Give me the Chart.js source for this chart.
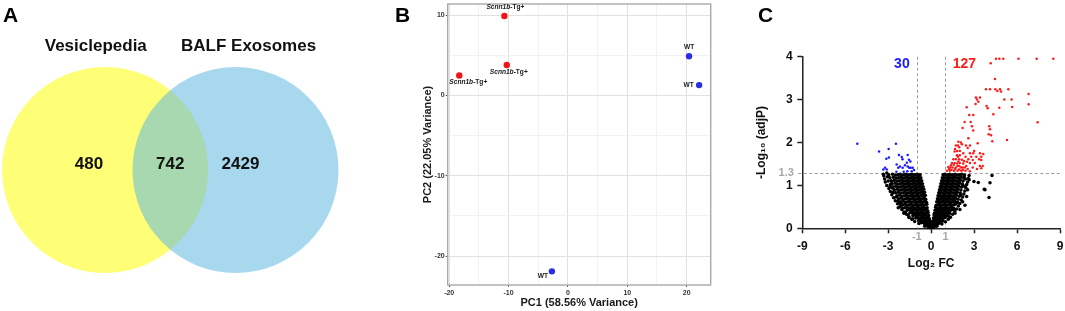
<!DOCTYPE html>
<html>
<head>
<meta charset="utf-8">
<script src="https://cdn.jsdelivr.net/npm/chart.js@4.4.1/dist/chart.umd.min.js"></script>
<style>
html,body{margin:0;padding:0;background:#fff;width:1065px;height:311px;overflow:hidden;font-family:"Liberation Sans",Arial,Helvetica,sans-serif}
canvas{position:absolute;top:0}
.panel{position:absolute;font-weight:bold;font-size:21px;line-height:21px;color:#000;z-index:5}
</style>
</head>
<body>
<canvas id="venn" width="360" height="311" style="left:0"></canvas>
<canvas id="pca" width="330" height="311" style="left:400px"></canvas>
<canvas id="volcano" width="310" height="311" style="left:755px"></canvas>
<div class="panel" style="left:3px;top:4px">A</div>
<div class="panel" style="left:395px;top:4px">B</div>
<div class="panel" style="left:758px;top:4px">C</div>
<script>
// ---------------- DATA ----------------
// Panel A: Venn diagram
const vennSetNames = ['Vesiclepedia', 'BALF Exosomes'];
const vennCounts = [480, 742, 2429]; // only Vesiclepedia, shared, only BALF

// Panel B: PCA
const pcaGroups = ['Scnn1b-Tg+', 'WT'];
const pcaTgX = [-18.3, -10.7, -10.3];
const pcaTgY = [2.5, 9.9, 3.8];
const pcaWtX = [20.4, 22.1, -2.7];
const pcaWtY = [4.9, 1.3, -21.9];
const pcaXTicks = [-20, -15, -10, -5, 0, 5, 10, 15, 20];
const pcaYTicks = [-20, -15, -10, -5, 0, 5, 10];
const pcaXTitle = 'PC1 (58.56% Variance)';
const pcaYTitle = 'PC2 (22.05% Variance)';

// Panel C: volcano plot
const volcanoCounts = [30, 127]; // down, up
const volcanoXTicks = [-9, -6, -3, 0, 3, 6, 9];
const volcanoYTicks = [0, 1, 2, 3, 4];
const fcCutoffs = [-1, 1];
const pCutoff = 1.3;
const volcanoXTitle = 'Log\u2082 FC';
const volcanoYTitle = '-Log\u2081\u2080 (adjP)';

const volcanoUp = [
[4.16,3.85],[4.53,3.95],[4.76,3.95],[5.04,3.95],[6.1,3.95],[7.37,3.95],[8.53,3.95],
[4.46,3.48],
[3.83,3.24],[4.11,3.24],[4.48,3.24],[4.62,3.2],[4.81,3.24],[4.88,3.19],[5.39,3.24],
[6.81,3.13],
[3.13,3.05],[3.41,3.05],[3.2,3.0],[3.3,2.95],[3.1,2.9],
[5.11,3.0],[5.62,3.0],[5.66,2.83],
[3.87,2.85],[3.95,2.8],[4.76,2.81],[6.81,2.89],
[2.48,2.82],[4.34,2.66],[2.66,2.64],[2.94,2.64],
[2.34,2.48],[2.76,2.48],[2.85,2.38],[2.94,2.28],[2.2,2.34],
[4.06,2.38],[4.11,2.31],[4.18,2.17],[4.02,2.19],
[7.44,2.47],[4.27,2.03],[5.3,2.06],[2.08,2.0],
[1.73,1.93],[1.87,1.93],[1.96,1.89],[2.43,1.93],[2.71,1.93],
[1.82,1.8],[2.01,1.8],[1.64,1.79],
[2.24,1.75],[2.71,1.75],[2.94,1.75],[3.41,1.75],[3.64,1.73],
[1.8,1.7],[1.87,1.67],[2.0,1.7],[2.4,1.67],[3.15,1.67],[3.5,1.67],
[1.55,1.61],[1.73,1.61],[1.96,1.61],[2.15,1.6],[2.6,1.61],[2.9,1.59],[3.35,1.61],[3.5,1.59],
[1.45,1.52],[1.64,1.52],[1.82,1.51],[2.0,1.52],[2.24,1.51],[2.71,1.52],[3.05,1.52],
[3.4,1.45],[3.5,1.4],[3.6,1.45],
[1.2,1.43],[1.35,1.42],[1.5,1.42],[1.73,1.42],[1.85,1.45],[1.96,1.45],[2.08,1.42],[2.2,1.42],[2.35,1.42],[2.45,1.45],[2.9,1.42],
[1.1,1.34],[1.3,1.34],[1.6,1.34],[1.85,1.34],[2.1,1.34],[2.4,1.34],
[1.25,1.38],[1.42,1.36],[1.68,1.38],[1.95,1.37],[2.22,1.36],[2.55,1.38],[2.7,1.33],[3.2,1.38],
[1.38,1.47],[1.58,1.48],[1.9,1.56],[2.3,1.57],[2.5,1.55],[2.8,1.67],[3.0,1.8],[2.55,1.87],
[1.67,1.85],[2.15,1.96],[3.25,1.98],[2.6,2.1],[1.9,2.02]
];

const volcanoDown = [
[-5.16,1.97],[-3.64,1.79],[-2.97,1.85],[-2.46,1.97],[-3.13,1.62],[-2.95,1.65],[-2.25,1.71],
[-2.0,1.61],[-2.05,1.66],[-1.64,1.71],[-1.55,1.6],[-3.22,1.41],[-3.1,1.37],[-3.34,1.37],
[-2.41,1.49],[-2.3,1.41],[-2.18,1.44],[-1.99,1.41],[-1.83,1.47],[-1.64,1.44],[-1.53,1.41],
[-1.43,1.41],[-1.29,1.41],[-2.43,1.32],[-1.92,1.32],[-1.66,1.33],[-1.36,1.33],[-1.7,1.53],
[-1.45,1.56],[-1.2,1.36]
];

const volcanoNS = [
[-0.22,0.03],[-0.13,0.02],[-0.06,0.04],[0,0.01],[0.07,0.03],[0.15,0.02],[0.23,0.04],
[-0.43,0.08],[-0.33,0.09],[-0.24,0.07],[-0.14,0.08],[-0.05,0.09],[0.06,0.07],[0.15,0.09],[0.25,0.08],[0.35,0.07],[0.44,0.09],
[-0.68,0.13],[-0.57,0.14],[-0.46,0.12],[-0.36,0.13],[-0.26,0.14],[-0.16,0.12],[-0.08,0.13],[0.09,0.14],[0.19,0.12],[0.29,0.13],[0.4,0.14],[0.52,0.12],[0.63,0.13],
[-0.88,0.18],[-0.76,0.19],[-0.64,0.17],[-0.53,0.18],[-0.42,0.19],[-0.31,0.17],[-0.2,0.18],[-0.1,0.19],[0.12,0.17],[0.23,0.18],[0.34,0.19],[0.46,0.17],[0.58,0.18],[0.7,0.19],[0.81,0.17],
[-1.08,0.24],[-0.95,0.25],[-0.83,0.23],[-0.71,0.24],[-0.59,0.25],[-0.48,0.23],[-0.37,0.24],[-0.25,0.25],[-0.14,0.23],[0.16,0.24],[0.27,0.25],[0.39,0.23],[0.51,0.24],[0.63,0.25],[0.76,0.23],[0.88,0.24],[0.99,0.25],
[-1.28,0.3],[-1.15,0.31],[-1.02,0.29],[-0.9,0.3],[-0.78,0.31],[-0.66,0.29],[-0.54,0.3],[-0.42,0.31],[-0.3,0.29],[-0.17,0.3],[0.2,0.31],[0.31,0.29],[0.43,0.3],[0.55,0.31],[0.67,0.29],[0.79,0.3],[0.91,0.31],[1.03,0.29],[1.14,0.3],
[-1.48,0.36],[-1.34,0.37],[-1.21,0.35],[-1.08,0.36],[-0.96,0.37],[-0.84,0.35],[-0.72,0.36],[-0.6,0.37],[-0.48,0.35],[-0.35,0.36],[-0.21,0.37],[0.23,0.35],[0.35,0.36],[0.47,0.37],[0.59,0.35],[0.71,0.36],[0.83,0.37],[0.95,0.35],[1.07,0.36],[1.19,0.37],[1.29,0.35],
[-1.68,0.42],[-1.53,0.43],[-1.39,0.41],[-1.26,0.42],[-1.13,0.43],[-1.0,0.41],[-0.88,0.42],[-0.76,0.43],[-0.64,0.41],[-0.52,0.42],[-0.39,0.43],[-0.24,0.41],[0.27,0.42],[0.39,0.43],[0.51,0.41],[0.63,0.42],[0.75,0.43],[0.87,0.41],[0.99,0.42],[1.11,0.43],[1.23,0.41],[1.35,0.42],[1.44,0.43],
[-1.84,0.48],[-1.68,0.49],[-1.54,0.47],[-1.41,0.48],[-1.28,0.49],[-1.15,0.47],[-1.03,0.48],[-0.91,0.49],[-0.79,0.47],[-0.67,0.48],[-0.55,0.49],[-0.42,0.47],[-0.28,0.48],[0.31,0.49],[0.43,0.47],[0.55,0.48],[0.67,0.49],[0.79,0.47],[0.91,0.48],[1.03,0.49],[1.15,0.47],[1.28,0.48],[1.42,0.49],[1.57,0.47],
[-1.98,0.55],[-1.82,0.56],[-1.67,0.54],[-1.53,0.55],[-1.4,0.56],[-1.27,0.54],[-1.14,0.55],[-1.02,0.56],[-0.9,0.54],[-0.78,0.55],[-0.66,0.56],[-0.54,0.54],[-0.42,0.55],[-0.3,0.56],[0.35,0.54],[0.47,0.55],[0.59,0.56],[0.71,0.54],[0.83,0.55],[0.95,0.56],[1.07,0.54],[1.19,0.55],[1.32,0.56],[1.46,0.54],[1.59,0.55],[1.69,0.56],
[-2.13,0.62],[-1.96,0.63],[-1.8,0.61],[-1.65,0.62],[-1.51,0.63],[-1.38,0.61],[-1.25,0.62],[-1.12,0.63],[-1.0,0.61],[-0.88,0.62],[-0.76,0.63],[-0.64,0.61],[-0.52,0.62],[-0.41,0.63],[-0.33,0.61],[0.39,0.62],[0.51,0.63],[0.63,0.61],[0.75,0.62],[0.87,0.63],[0.99,0.61],[1.11,0.62],[1.24,0.63],[1.37,0.61],[1.51,0.62],[1.65,0.63],[1.79,0.61],
[-2.28,0.69],[-2.1,0.7],[-1.93,0.68],[-1.77,0.69],[-1.63,0.7],[-1.49,0.68],[-1.36,0.69],[-1.23,0.7],[-1.1,0.68],[-0.98,0.69],[-0.86,0.7],[-0.74,0.68],[-0.62,0.69],[-0.5,0.7],[-0.38,0.68],[0.44,0.69],[0.56,0.7],[0.68,0.68],[0.8,0.69],[0.92,0.7],[1.04,0.68],[1.16,0.69],[1.29,0.7],[1.42,0.68],[1.56,0.69],[1.7,0.7],[1.88,0.68],
[-2.38,0.76],[-2.2,0.77],[-2.03,0.75],[-1.87,0.76],[-1.72,0.77],[-1.58,0.75],[-1.45,0.76],[-1.32,0.77],[-1.19,0.75],[-1.07,0.76],[-0.95,0.77],[-0.83,0.75],[-0.71,0.76],[-0.59,0.77],[-0.47,0.75],[-0.41,0.77],[0.48,0.76],[0.6,0.77],[0.72,0.75],[0.84,0.76],[0.96,0.77],[1.08,0.75],[1.21,0.76],[1.34,0.77],[1.48,0.75],[1.62,0.76],[1.77,0.77],[1.96,0.75],
[-2.48,0.83],[-2.29,0.84],[-2.12,0.82],[-1.96,0.83],[-1.81,0.84],[-1.67,0.82],[-1.53,0.83],[-1.4,0.84],[-1.27,0.82],[-1.14,0.83],[-1.02,0.84],[-0.9,0.82],[-0.78,0.83],[-0.66,0.84],[-0.54,0.82],[-0.46,0.84],[0.53,0.83],[0.65,0.84],[0.77,0.82],[0.89,0.83],[1.01,0.84],[1.13,0.82],[1.26,0.83],[1.39,0.84],[1.53,0.82],[1.67,0.83],[1.83,0.84],[2.03,0.82],
[-2.58,0.9],[-2.38,0.91],[-2.2,0.89],[-2.04,0.9],[-1.89,0.91],[-1.74,0.89],[-1.6,0.9],[-1.47,0.91],[-1.34,0.89],[-1.21,0.9],[-1.08,0.91],[-0.96,0.89],[-0.84,0.9],[-0.72,0.91],[-0.6,0.89],[-0.51,0.91],[0.58,0.9],[0.7,0.91],[0.82,0.89],[0.94,0.9],[1.06,0.91],[1.18,0.89],[1.31,0.9],[1.44,0.91],[1.58,0.89],[1.73,0.9],[1.89,0.91],[2.08,0.89],
[-2.66,0.97],[-2.46,0.98],[-2.28,0.96],[-2.11,0.97],[-1.96,0.98],[-1.81,0.96],[-1.67,0.97],[-1.53,0.98],[-1.4,0.96],[-1.27,0.97],[-1.14,0.98],[-1.02,0.96],[-0.9,0.97],[-0.78,0.98],[-0.66,0.96],[-0.56,0.97],[0.63,0.97],[0.75,0.98],[0.87,0.96],[0.99,0.97],[1.11,0.98],[1.23,0.96],[1.36,0.97],[1.49,0.98],[1.63,0.96],[1.78,0.97],[1.94,0.98],[2.13,0.96],
[-2.73,1.04],[-2.52,1.05],[-2.34,1.03],[-2.17,1.04],[-2.02,1.05],[-1.87,1.03],[-1.73,1.04],[-1.59,1.05],[-1.46,1.03],[-1.33,1.04],[-1.2,1.05],[-1.07,1.03],[-0.95,1.04],[-0.83,1.05],[-0.71,1.03],[-0.61,1.04],[0.68,1.04],[0.8,1.05],[0.92,1.03],[1.04,1.04],[1.16,1.05],[1.28,1.03],[1.41,1.04],[1.54,1.05],[1.68,1.03],[1.83,1.04],[1.99,1.05],[2.18,1.03],
[-2.8,1.11],[-2.58,1.12],[-2.39,1.1],[-2.22,1.11],[-2.06,1.12],[-1.91,1.1],[-1.77,1.11],[-1.63,1.12],[-1.5,1.1],[-1.37,1.11],[-1.24,1.12],[-1.11,1.1],[-0.99,1.11],[-0.87,1.12],[-0.76,1.1],[-0.66,1.11],[0.73,1.11],[0.85,1.12],[0.97,1.1],[1.09,1.11],[1.21,1.12],[1.33,1.1],[1.46,1.11],[1.59,1.12],[1.73,1.1],[1.88,1.11],[2.04,1.12],[2.23,1.1],
[-2.88,1.18],[-2.64,1.19],[-2.44,1.17],[-2.27,1.18],[-2.11,1.19],[-1.96,1.17],[-1.82,1.18],[-1.68,1.19],[-1.55,1.17],[-1.42,1.18],[-1.29,1.19],[-1.16,1.17],[-1.04,1.18],[-0.92,1.19],[-0.81,1.17],[-0.72,1.18],[0.78,1.18],[0.9,1.19],[1.02,1.17],[1.14,1.18],[1.26,1.19],[1.38,1.17],[1.51,1.18],[1.64,1.19],[1.78,1.17],[1.93,1.18],[2.09,1.19],[2.28,1.17],
[-2.96,1.25],[-2.7,1.26],[-2.49,1.24],[-2.32,1.25],[-2.16,1.26],[-2.01,1.24],[-1.87,1.25],[-1.73,1.26],[-1.6,1.24],[-1.47,1.25],[-1.34,1.26],[-1.21,1.24],[-1.09,1.25],[-0.97,1.26],[-0.86,1.24],[-0.77,1.25],[0.83,1.25],[0.95,1.26],[1.07,1.24],[1.19,1.25],[1.31,1.26],[1.43,1.24],[1.56,1.25],[1.69,1.26],[1.83,1.24],[1.98,1.25],[2.14,1.26],[2.33,1.24],
[-0.45,0.05],[-0.85,0.11],[-1.15,0.16],[-1.35,0.21],[-1.55,0.27],[-1.72,0.33],[-1.9,0.38],[-2.05,0.44],[-2.2,0.5],[-2.35,0.57],
[-2.5,0.64],[-2.62,0.71],[-2.75,0.78],[-2.85,0.86],[-2.95,0.93],[-3.1,1.0],[-3.2,1.08],[-3.25,1.15],[-3.3,1.22],
[-1.3,0.22],[-1.6,0.31],[-1.8,0.36],[-2.0,0.47],[-2.15,0.58],[-2.3,0.63],[-2.45,0.73],[-2.6,0.86],[-2.7,0.94],[-2.85,1.02],[-3.0,1.1],[-3.1,1.29],
[0.4,0.05],[0.75,0.1],[1.0,0.15],[1.2,0.21],[1.35,0.26],[1.5,0.33],[1.65,0.39],[1.78,0.45],[1.9,0.52],[2.0,0.58],
[2.1,0.66],[2.2,0.73],[2.28,0.8],[2.35,0.87],[2.42,0.95],[2.48,1.02],[2.55,1.08],[2.6,1.16],[2.65,1.23],
[1.25,0.27],[1.6,0.43],[1.85,0.6],[2.05,0.78],[2.25,0.99],[2.4,1.15],
[4.25,1.23],[4.11,1.06],[3.76,0.9],[4.04,0.72],[2.99,1.09],[3.29,1.07],[3.71,0.91],[2.31,1.2],[2.36,0.97],[2.48,0.74],[2.36,0.54],[1.66,0.35],[2.01,0.44],[2.66,1.13],[2.55,0.9],[2.2,0.62],
[-3.34,1.26],[-2.76,1.09],[-2.69,0.82],[-2.3,0.48],[-2.06,0.54],[-2.88,0.97],[-3.05,1.2],[-1.9,0.35],[-1.55,0.25]
];

// ---------------- STYLE / LAYOUT ----------------
const FONT = '"Liberation Sans", Arial, Helvetica, sans-serif';
Chart.defaults.font.family = FONT;
const baseOpts = {responsive:false, animation:false, events:[], devicePixelRatio:1,
  plugins:{legend:{display:false}, tooltip:{enabled:false}}};

// ----- Panel A: Venn -----
const vennCenters = [-0.633, 0.633];              // layout, in circle-radius units
const vennColors = ['#ffff77', 'rgba(95,184,222,0.55)'];
const vennOrder = [2, 1];                          // blue drawn over yellow
const vennTitlePos = [[-0.723, 1.158], [0.760, 1.158]];
const vennCountPos = [[-0.789, 0.007], [0, 0.007], [0.682, 0.007]];
const unitRadius = ctx => {
  const s = ctx.chart.scales.x;
  return s ? Math.abs(s.getPixelForValue(1) - s.getPixelForValue(0)) : 100;
};
const vennText = {
  id:'vennText',
  afterDatasetsDraw(chart){
    const {ctx, scales:{x,y}} = chart;
    ctx.save();
    ctx.fillStyle = '#111';
    ctx.textAlign = 'center';
    ctx.textBaseline = 'alphabetic';
    ctx.font = 'bold 17px ' + FONT;
    vennSetNames.forEach((n,i)=>ctx.fillText(n, x.getPixelForValue(vennTitlePos[i][0]), y.getPixelForValue(vennTitlePos[i][1])));
    vennCounts.forEach((c,i)=>ctx.fillText(String(c), x.getPixelForValue(vennCountPos[i][0]), y.getPixelForValue(vennCountPos[i][1])));
    ctx.restore();
  }
};
new Chart(document.getElementById('venn'), {
  type:'scatter',
  data:{datasets: vennSetNames.map((n,i)=>({label:n, data:[{x:vennCenters[i], y:0}], order:vennOrder[i],
    backgroundColor:vennColors[i], borderWidth:0, pointRadius:unitRadius, clip:false}))},
  options:Object.assign({}, baseOpts, {
    layout:{padding:0},
    scales:{x:{display:false, min:-1.653, max:1.842}, y:{display:false, min:-1.369, max:1.650}}
  }),
  plugins:[vennText]
});

// ----- Panel B: PCA -----
const pcaColors = ['#f01414', '#2a2ee0'];
const pcaLabelOffsets = [[[9,7],[1,-8.5],[2,7.5]], [[0,-9.5],[-10.5,0],[-9,4.5]]];
function drawGroupLabel(ctx, text, cx, cy){
  const m = text.match(/^(Scnn1b)(.*)$/);
  const size = 6.6;
  const itFont = 'italic bold ' + size + 'px ' + FONT;
  const nFont = 'bold ' + size + 'px ' + FONT;
  ctx.textBaseline = 'middle';
  ctx.textAlign = 'left';
  ctx.fillStyle = '#1a1a1a';
  if (m){
    ctx.font = itFont; const w1 = ctx.measureText(m[1]).width;
    ctx.font = nFont; const w2 = ctx.measureText(m[2]).width;
    const x0 = cx - (w1+w2)/2;
    ctx.font = itFont; ctx.fillText(m[1], x0, cy);
    ctx.font = nFont; ctx.fillText(m[2], x0 + w1, cy);
  } else {
    ctx.font = nFont; const w = ctx.measureText(text).width;
    ctx.fillText(text, cx - w/2, cy);
  }
}
const pcaDecor = {
  id:'pcaDecor',
  beforeDatasetsDraw(chart){
    const {ctx, chartArea:a} = chart;
    ctx.save(); ctx.strokeStyle = '#a9a9a9'; ctx.lineWidth = 1.4;
    ctx.strokeRect(a.left, a.top, a.right - a.left, a.bottom - a.top);
    ctx.restore();
  },
  afterDatasetsDraw(chart){
    const ctx = chart.ctx; ctx.save();
    chart.data.datasets.forEach((ds,di)=>{
      chart.getDatasetMeta(di).data.forEach((pt,i)=>{
        const o = pcaLabelOffsets[di][i];
        drawGroupLabel(ctx, pcaGroups[di], pt.x + o[0], pt.y + o[1]);
      });
    });
    ctx.restore();
  }
};
const isMajor = c => c.tick && Math.abs(c.tick.value % 10) < 1e-9;
const pcaGrid = {
  color: c => isMajor(c) ? '#e1e1e1' : '#efefef',
  lineWidth: c => isMajor(c) ? 1 : 0.8,
  tickLength: 2,
  tickColor: c => isMajor(c) ? '#555' : 'rgba(0,0,0,0)'
};
new Chart(document.getElementById('pca'), {
  type:'scatter',
  data:{datasets:[
    {label:pcaGroups[0], data:pcaTgX.map((v,i)=>({x:v, y:pcaTgY[i]})), backgroundColor:pcaColors[0], borderWidth:0, pointRadius:3.2, clip:false},
    {label:pcaGroups[1], data:pcaWtX.map((v,i)=>({x:v, y:pcaWtY[i]})), backgroundColor:pcaColors[1], borderWidth:0, pointRadius:3.2, clip:false}
  ]},
  options:Object.assign({}, baseOpts, {
    layout:{padding:{top:2.7, right:19.3, left:0, bottom:0}},
    scales:{
      x:{type:'linear', min:-20.25, max:24.05,
        afterBuildTicks: s => { s.ticks = pcaXTicks.map(v=>({value:v})); },
        afterFit: s => { s.height = 26; s.paddingLeft = 0; s.paddingRight = 0; },
        ticks:{callback: v => (Math.abs(v % 10) < 1e-9 ? String(v) : ''), font:{size:7, weight:'bold'}, color:'#333', padding:2, maxRotation:0, autoSkip:false},
        grid:pcaGrid, border:{display:false},
        title:{display:true, text:pcaXTitle, font:{size:11, weight:'bold'}, color:'#1a1a1a', padding:{top:0, bottom:1.4}}
      },
      y:{type:'linear', min:-23.6, max:11.4,
        afterBuildTicks: s => { s.ticks = pcaYTicks.map(v=>({value:v})); },
        afterFit: s => { s.width = 47.7; s.paddingTop = 0; s.paddingBottom = 0; },
        ticks:{callback: v => (Math.abs(v % 10) < 1e-9 ? String(v) : ''), font:{size:7, weight:'bold'}, color:'#333', padding:1, autoSkip:false},
        grid:pcaGrid, border:{display:false},
        title:{display:true, text:pcaYTitle, font:{size:11, weight:'bold'}, color:'#1a1a1a', padding:{top:21.4, bottom:0}}
      }
    }
  }),
  plugins:[pcaDecor]
});

// ----- Panel C: volcano -----
const volcanoColors = {ns:'#000000', up:'#ff1a1a', down:'#1a1aff'};
const countPos = [[-1.5, 3.82, 'right'], [1.5, 3.82, 'left']];
const volcanoDecor = {
  id:'volcanoDecor',
  beforeDatasetsDraw(chart){
    const {ctx, chartArea:a, scales:{x,y}} = chart;
    ctx.save();
    ctx.setLineDash([3,2.5]); ctx.strokeStyle = '#9c9c9c'; ctx.lineWidth = 1;
    fcCutoffs.forEach(v=>{ const px = Math.round(x.getPixelForValue(v)) + 0.5;
      ctx.beginPath(); ctx.moveTo(px, a.top); ctx.lineTo(px, a.bottom); ctx.stroke(); });
    const py = Math.round(y.getPixelForValue(pCutoff)) + 0.5;
    ctx.beginPath(); ctx.moveTo(a.left - 4, py); ctx.lineTo(a.right, py); ctx.stroke();
    ctx.restore();
  },
  afterDraw(chart){
    const {ctx, chartArea:a, scales:{x,y}} = chart;
    ctx.save();
    ctx.fillStyle = '#a8a8a8';
    ctx.font = 'bold 11px ' + FONT;
    ctx.textBaseline = 'middle'; ctx.textAlign = 'center';
    fcCutoffs.forEach(v => ctx.fillText(String(v), x.getPixelForValue(v), a.bottom + 8.6));
    ctx.textAlign = 'right';
    ctx.fillText(String(pCutoff), a.left - 8.5, y.getPixelForValue(pCutoff));
    ctx.font = 'bold 14px ' + FONT;
    [volcanoColors.down, volcanoColors.up].forEach((col,i)=>{
      ctx.fillStyle = col; ctx.textAlign = countPos[i][2];
      ctx.fillText(String(volcanoCounts[i]), x.getPixelForValue(countPos[i][0]), y.getPixelForValue(countPos[i][1]));
    });
    ctx.restore();
  }
};
const toPts = arr => arr.map(p=>({x:p[0], y:p[1]}));
const vAxisGrid = {drawOnChartArea:false, drawTicks:true, tickLength:5, tickColor:'#222', tickWidth:1.5};
new Chart(document.getElementById('volcano'), {
  type:'scatter',
  data:{datasets:[
    {label:'NS', order:3, data:toPts(volcanoNS), backgroundColor:volcanoColors.ns, borderWidth:0, pointRadius:1.75, clip:false},
    {label:'Down', order:2, data:toPts(volcanoDown), backgroundColor:volcanoColors.down, borderWidth:0, pointRadius:1.25, clip:false},
    {label:'Up', order:1, data:toPts(volcanoUp), backgroundColor:volcanoColors.up, borderWidth:0, pointRadius:1.25, clip:false}
  ]},
  options:Object.assign({}, baseOpts, {
    layout:{padding:{top:56.7, right:5, left:0, bottom:0}},
    scales:{
      x:{type:'linear', min:-9, max:9,
        afterBuildTicks: s => { s.ticks = volcanoXTicks.map(v=>({value:v})); },
        afterFit: s => { s.height = 82.7; s.paddingLeft = 0; s.paddingRight = 0; },
        ticks:{font:{size:12, weight:'bold'}, color:'#111', padding:6.2, maxRotation:0, autoSkip:false},
        grid:vAxisGrid, border:{display:true, color:'#222', width:1.5},
        title:{display:true, text:volcanoXTitle, font:{size:12, weight:'bold'}, color:'#111', padding:{top:0, bottom:40.5}}
      },
      y:{type:'linear', min:0, max:4,
        afterBuildTicks: s => { s.ticks = volcanoYTicks.map(v=>({value:v})); },
        afterFit: s => { s.width = 47.3; s.paddingTop = 0; s.paddingBottom = 0; },
        ticks:{font:{size:12, weight:'bold'}, color:'#111', padding:4.6, autoSkip:false},
        grid:vAxisGrid, border:{display:true, color:'#222', width:1.5},
        title:{display:true, text:volcanoYTitle, font:{size:12, weight:'bold'}, color:'#111', padding:{top:-0.5, bottom:0}}
      }
    }
  }),
  plugins:[volcanoDecor]
});
</script>
</body>
</html>
